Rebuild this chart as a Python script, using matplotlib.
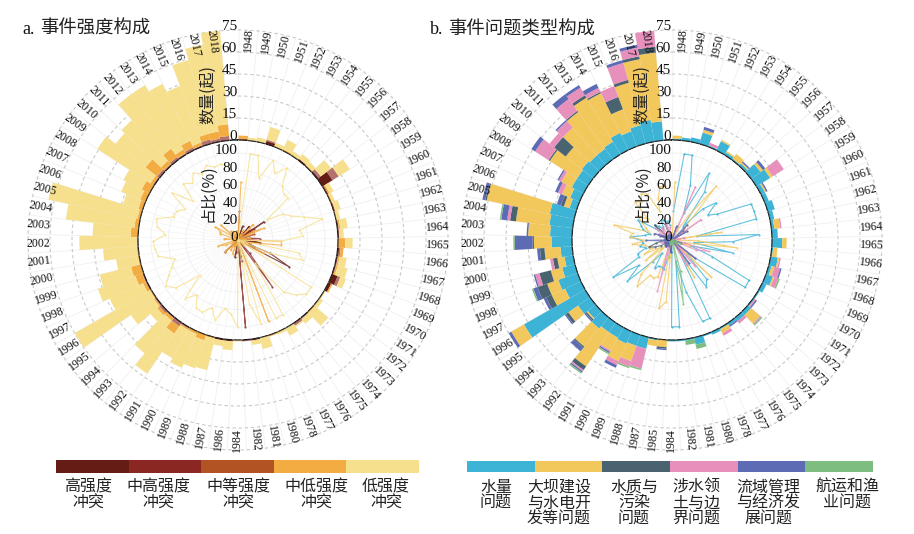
import numpy as np
import matplotlib
matplotlib.use("Agg")
import matplotlib.pyplot as plt

W, H = 914, 534
CJK = ['Noto Sans CJK SC', 'DejaVu Sans']
SERIF = 'Liberation Serif'

base_years = list(range(1948, 1979))
years_a = base_years + [1980, 1981, 1982, 1984, 1986, 1987] + list(range(1988, 2019))
years_b = base_years + [1980, 1981, 1982, 1984, 1985, 1987] + list(range(1988, 2019))

# Panel a: conflict intensity counts per year
high = [0,0,0,2,0,0,0,1,0,1, 8,0,0,0,0,0,0,0,1,0, 0,4,2,0,0,0,0,0,0,0, 0,0,1,0,0,1,1,0,0,0,
        0,0,0,0,0,0,0,0,0,0, 0,0,0,0,0,0,0,0,0,0, 0,0,0,0,0,0,0,0]
mid_high = [0,0,0,1,0,0,0,0,0,2, 5,0,0,0,0,1,1,0,1,1, 1,2,0,0,0,0,1,2,0,0, 0,0,0,1,0,0,0,0,0,0,
            1,3,1,2,1,0,1,1,0,0, 0,0,0,0,0,0,0,0,1,2, 1,2,1,2,1,3,2,3]
medium = [1,0,0,0,0,0,0,0,0,0, 0,1,0,1,0,0,0,0,0,0, 0,0,0,0,0,0,0,0,0,0, 0,0,0,0,0,0,0,0,0,0,
          0,0,0,0,0,0,0,0,0,0, 0,0,0,0,0,0,0,0,0,0, 0,0,0,0,0,0,0,0]
mid_low = [2,0,0,0,0,1,0,0,1,0, 0,1,1,0,0,1,0,5,2,1, 1,0,1,0,0,1,0,0,0,0, 1,0,0,0,0,0,0,1,4,2,
           1,6,2,2,1,1,2,5,7,1, 1,1,5,3,2,3,4,6,2,10, 3,7,3,5,2,4,5,8]
low = [0,2,3,9,3,7,3,4,3,9, 9,3,2,4,3,5,3,5,0,5, 7,4,0,1,3,12,4,1,6,2, 0,8,3,0,1,6,4,22,20,25,
       22,33,29,6,19,59,25,27,22,15, 23,39,26,47,62,11,14,14,43,26, 37,46,51,43,41,52,60,64]

# Panel b: issue type counts per year
quantity = [1,2,3,8,1,7,2,1,2,8, 11,3,3,5,3,2,4,7,1,5, 2,5,3,1,1,3,3,2,1,2, 1,5,1,1,1,0,1,8,8,9,
            8,8,10,7,10,48,12,14,9,6, 8,14,15,16,17,5,7,9,9,10, 9,9,10,13,11,13,15,13]
dam = [2,0,0,2,0,1,1,4,1,2, 2,1,0,0,0,4,0,3,3,1, 2,1,0,0,0,8,0,0,3,0, 0,0,0,0,0,5,4,0,11,13,
       10,28,16,1,8,10,10,8,8,5, 11,12,15,23,44,4,6,8,22,14, 25,31,35,30,16,30,42,47]
quality = [0,0,0,0,0,0,0,0,0,0, 0,0,0,0,0,0,0,0,0,0, 0,0,0,0,0,0,0,0,0,0, 0,0,0,0,0,1,0,0,0,0,
           0,3,1,1,2,0,4,7,8,3, 3,1,0,4,1,2,0,0,1,10, 0,1,2,1,9,2,2,4]
territory = [0,0,0,0,2,0,0,0,0,0, 9,0,0,0,0,1,0,0,0,1, 4,3,0,0,1,1,2,0,2,0, 0,0,0,0,0,0,0,14,4,3,
             1,1,0,0,0,0,0,0,3,2, 0,0,0,2,0,0,3,2,11,4, 6,10,6,3,8,12,6,11]
basin = [0,0,0,2,0,0,0,0,1,2, 0,1,0,0,0,0,0,0,0,0, 1,0,0,0,1,0,0,1,0,0, 0,0,0,0,0,1,0,0,0,2,
         1,1,3,1,1,2,2,3,1,0, 2,12,1,4,2,3,2,1,3,0, 1,4,2,3,0,2,2,0]
navigation = [0,0,0,0,0,0,0,0,0,0, 0,0,0,0,0,0,0,0,0,0, 0,1,0,0,0,1,0,0,0,0, 0,3,3,0,0,0,0,1,1,0,
              1,1,0,0,0,0,0,1,0,0, 0,1,0,1,0,0,0,0,0,0, 0,0,0,0,0,0,0,0]

series_a = [high, mid_high, medium, mid_low, low]
series_b = [quantity, dam, quality, territory, basin, navigation]
colors_a = ['#641c14', '#8a2723', '#b25324', '#f2ac42', '#f6e08e']
colors_b = ['#3db4d6', '#f2c75c', '#4a6370', '#e690bb', '#5d6bb5', '#7dbd80']
labels_a = ['高强度\n冲突', '中高强度\n冲突', '中等强度\n冲突', '中低强度\n冲突', '低强度\n冲突']
labels_b = ['水量\n问题', '大坝建设\n与水电开\n发等问题', '水质与\n污染\n问题', '涉水领\n土与边\n界问题',
            '流域管理\n与经济发\n展问题', '航运和渔\n业问题']
count_ticks = [0, 15, 30, 45, 60, 75]
pct_ticks = [0, 20, 40, 60, 80, 100]

N_SLOTS = 69
STEP = 2 * np.pi / N_SLOTS
THETA0 = np.deg2rad(2.9)
R_IN, PX_PER = 100.0, 110.0 / 75
PCT_PX = 0.87

fig = plt.figure(figsize=(W / 100, H / 100), dpi=100)


def polar_axes(cx, cy, r, z):
    ax = fig.add_axes([(cx - r) / W, 1 - (cy + r) / H, 2 * r / W, 2 * r / H], projection='polar', zorder=z)
    ax.set_theta_zero_location('N')
    ax.set_theta_direction(-1)
    ax.patch.set_alpha(0)
    ax.spines['polar'].set_visible(False)
    ax.set_axisbelow(True)
    return ax


def panel(cx, cy, years, series, colors, title, title_x, alphas):
    theta = THETA0 + STEP * np.arange(len(years))
    edges = THETA0 - STEP / 2 + STEP * np.arange(N_SLOTS)
    # outer stacked bars
    ax = polar_axes(cx, cy, 212, 1)
    bottom = np.zeros(len(years))
    for vals, col, al in zip(series, colors, alphas):
        vals = np.array(vals, float)
        ax.bar(theta, vals, width=STEP, bottom=bottom, color=col, alpha=al, linewidth=0, zorder=3)
        bottom += vals
    ax.set_rorigin(-R_IN / PX_PER)
    ax.set_ylim(0, 2 / PX_PER + 75)
    ax.set_yticks(count_ticks)
    ax.set_xticks(edges)
    ax.set_xticklabels([])
    ax.set_yticklabels([])
    ax.tick_params(length=0)
    ax.grid(axis='y', ls=(0, (3, 2.5)), color='#c9c9c9', lw=0.8)
    ax.grid(axis='x', ls='-', color='#f0f0f0', lw=0.6)
    ring = np.linspace(0, 2 * np.pi, 400)
    ax.plot(ring, np.zeros_like(ring), color='#2a2a2a', lw=0.9, zorder=4)
    for t, y in zip(theta, years):
        d = np.rad2deg(t)
        rot = 90 - d if d < 180 else 270 - d
        ax.text(t, (200 - R_IN) / PX_PER, str(y), rotation=rot, rotation_mode='anchor',
                ha='center', va='center', fontsize=8.6, family=SERIF, color='#111111', zorder=6)
    for v in count_ticks:
        ax.text(-0.005, v + 2.2, str(v), ha='right', va='center', fontsize=11, family=SERIF,
                color='#111111', zorder=7)
    # inner percentage lines
    ax2 = polar_axes(cx, cy, 100, 2)
    total = np.array(series, float).sum(axis=0)
    total[total == 0] = 1
    for vals, col in zip(series, colors):
        pct = np.array(vals, float) / total * 100
        ax2.plot(theta, pct, color=col, lw=0.8, alpha=0.8, marker='o', ms=1.6, mew=0, zorder=3)
    ax2.set_ylim(0, 100 / PCT_PX)
    ax2.set_yticks(pct_ticks[1:])
    ax2.set_xticks(edges)
    ax2.set_xticklabels([])
    ax2.set_yticklabels([])
    ax2.tick_params(length=0)
    ax2.grid(axis='y', ls='-', color='#efefef', lw=0.6)
    ax2.grid(axis='x', ls='-', color='#f3f3f3', lw=0.5)
    for v in pct_ticks:
        ax2.text(-0.01, v + 2.4, str(v), ha='right', va='center', fontsize=11, family=SERIF,
                 color='#111111', zorder=7)
    fig.text((cx - 30) / W, 1 - 95 / H, '数量(起)', rotation=90, ha='center', va='center',
             fontsize=11.5, family=CJK, color='#222222', zorder=8)
    fig.text((cx - 30) / W, 1 - 193 / H, '占比(%)', rotation=90, ha='center', va='center',
             fontsize=11.5, family=CJK, color='#222222', zorder=8)
    fig.text(title_x / W, 1 - 29 / H, title[0], ha='left', va='center', fontsize=13, family=SERIF,
             color='#111111')
    fig.text((title_x + 18) / W, 1 - 29 / H, title[1], ha='left', va='center', fontsize=13.2,
             family=CJK, color='#222222')


def legend(x0, x1, y0, y1, colors, labels, centers):
    ax = fig.add_axes([x0 / W, 1 - y1 / H, (x1 - x0) / W, (y1 - y0) / H])
    n = len(colors)
    ax.bar(np.arange(n), np.ones(n), width=1, color=colors, linewidth=0)
    ax.set_xlim(-0.5, n - 0.5)
    ax.set_ylim(0, 1)
    ax.axis('off')
    for lab, c in zip(labels, centers):
        fig.text(c / W, 1 - 478.5 / H, lab, ha='center', va='top', fontsize=11.5, family=CJK,
                 color='#222222', linespacing=0.92, multialignment='center')


panel(238, 240, years_a, series_a, colors_a, ('a.', '事件强度构成'), 22, [1, 0.65, 1, 1, 1])
panel(672, 240, years_b, series_b, colors_b, ('b.', '事件问题类型构成'), 430, [1, 1, 1, 1, 1, 1])
legend(56, 419, 460, 473, colors_a, labels_a, [88, 158, 238, 316, 386])
legend(467, 873, 461, 472, colors_b, labels_b, [496, 559, 634, 696, 768, 847])

fig.savefig('out.png', dpi=100)
